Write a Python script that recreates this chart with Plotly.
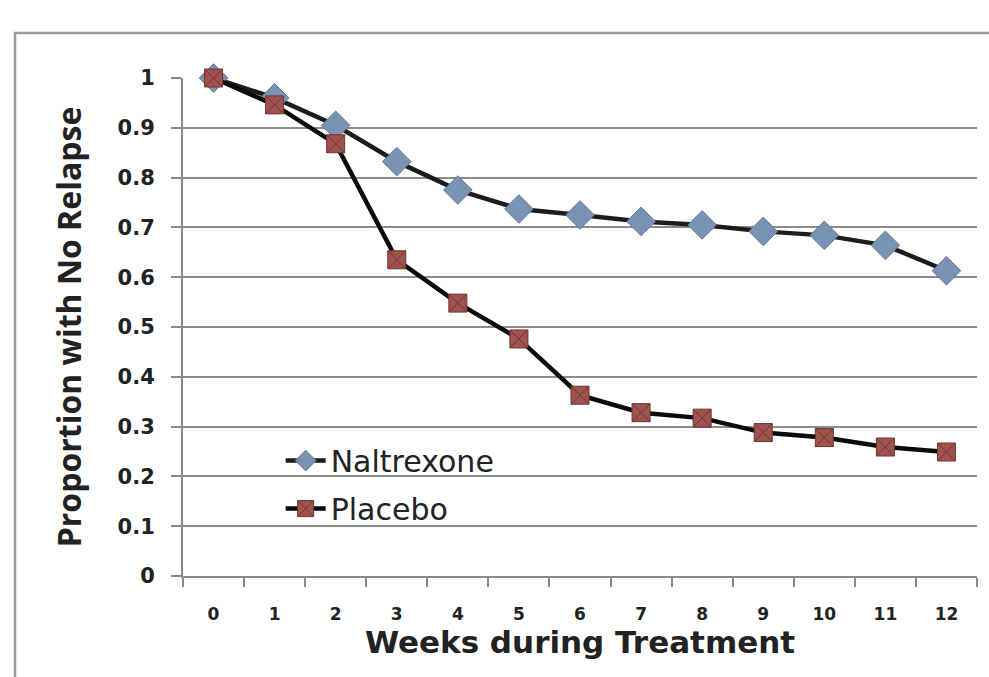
import plotly.graph_objects as go

weeks = [0, 1, 2, 3, 4, 5, 6, 7, 8, 9, 10, 11, 12]
naltrexone = [1.0, 0.96, 0.905, 0.832, 0.775, 0.737, 0.725, 0.712, 0.705, 0.692, 0.684, 0.664, 0.613]
placebo = [1.0, 0.946, 0.868, 0.635, 0.548, 0.476, 0.363, 0.328, 0.317, 0.288, 0.278, 0.259, 0.249]
y_ticks = [0, 0.1, 0.2, 0.3, 0.4, 0.5, 0.6, 0.7, 0.8, 0.9, 1]
y_tick_text = ["0", "0.1", "0.2", "0.3", "0.4", "0.5", "0.6", "0.7", "0.8", "0.9", "1"]

WIDE = "DejaVu Sans"
TALL = "Open Sans"
TXT = "#222222"

fig = go.Figure()
fig.add_trace(go.Scatter(
    x=weeks, y=naltrexone, name="Naltrexone", mode="lines+markers",
    legendgroup="a",
    line=dict(color="#1c1c1c", width=4.5),
    marker=dict(symbol="diamond", size=22, color="#7b93b3",
                line=dict(color="#5f7898", width=1)),
    cliponaxis=False,
))
fig.add_trace(go.Scatter(
    x=weeks, y=placebo, name="Placebo", mode="lines+markers",
    legendgroup="b",
    line=dict(color="#0a0a0a", width=4.5),
    marker=dict(symbol="square-x", size=18, color="#a0524f",
                line=dict(color="#6e3431", width=1)),
    cliponaxis=False,
))

fig.update_layout(
    width=989, height=677,
    margin=dict(l=183, r=12, t=78, b=101),
    paper_bgcolor="white", plot_bgcolor="white",
    font=dict(family=WIDE, color=TXT),
    showlegend=True,
    legend=dict(
        x=0.123, y=0.284, xanchor="left", yanchor="top",
        bgcolor="rgba(0,0,0,0)",
        font=dict(family=WIDE, size=30, color=TXT),
        tracegroupgap=6,
        itemwidth=40,
    ),
    shapes=[dict(
        type="rect", xref="paper", yref="paper",
        x0=-0.2116, x1=1.03, y0=-0.25, y1=1.0904,
        line=dict(color="#9a9a9a", width=2.5),
        fillcolor="rgba(0,0,0,0)", layer="below",
    )],
)

fig.update_xaxes(
    range=[-0.5, 12.5],
    tickmode="array", tickvals=weeks,
    ticktext=[f"<b>{w}</b>" for w in weeks],
    tickfont=dict(family=WIDE, size=17, color=TXT),
    ticklabelstandoff=22,
    showgrid=False, zeroline=False,
    showline=True, linecolor="#8a8a8a", linewidth=2,
    ticks="",
    title=dict(text="<b>Weeks during Treatment</b>",
               font=dict(family=WIDE, size=31, color=TXT), standoff=8),
    minor=dict(tickmode="array", tickvals=[w + 0.5 for w in [-1] + weeks],
               ticks="outside", ticklen=9, tickcolor="#8a8a8a", tickwidth=2),
)
fig.update_yaxes(
    range=[0, 1],
    tickmode="array", tickvals=y_ticks,
    ticktext=[f"<b>{t}</b>" for t in y_tick_text],
    tickfont=dict(family=WIDE, size=21, color=TXT),
    ticklabelstandoff=12,
    showgrid=True, gridcolor="#8c8c8c", gridwidth=2,
    zeroline=False,
    showline=True, linecolor="#8a8a8a", linewidth=2,
    ticks="outside", ticklen=10, tickcolor="#8a8a8a", tickwidth=2,
    title=dict(text="<b>Proportion with No Relapse</b>",
               font=dict(family=TALL, size=32, color=TXT), standoff=26),
)

fig.write_html("out.html")
